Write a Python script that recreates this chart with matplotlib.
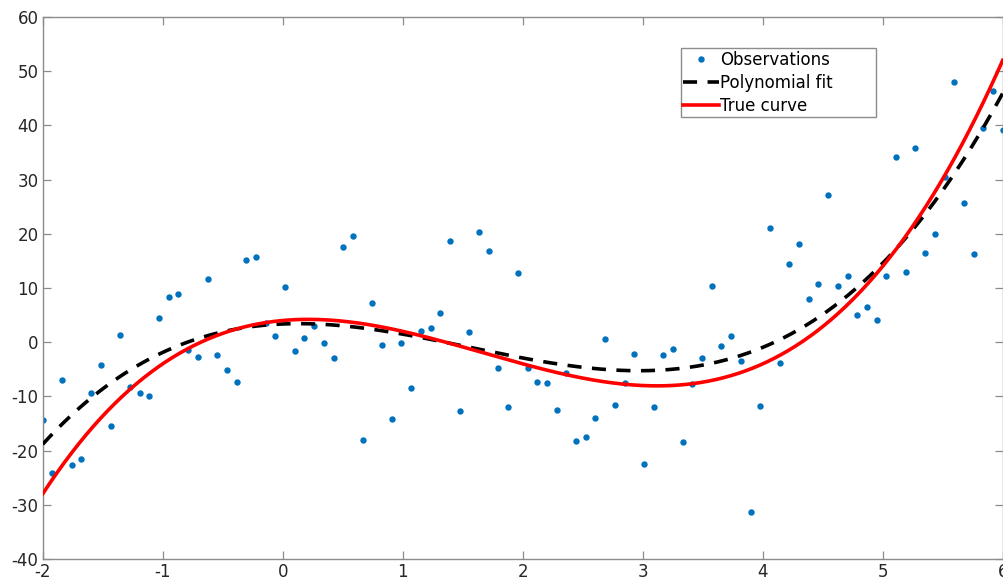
import numpy as np
import matplotlib
matplotlib.use("Agg")
import matplotlib.pyplot as plt
from matplotlib.patches import Rectangle

# Observation x positions and measured values
x_obs = np.linspace(-2, 6, 100)
y_obs = [
    -14.4, -24.1, -7.0, -22.6, -21.6, -9.3, -4.2, -15.4, 1.4, -8.3,
    -9.4, -9.9, 4.5, 8.4, 8.8, -1.5, -2.7, 11.6, -2.4, -5.1,
    -7.4, 15.1, 15.7, 3.5, 1.1, 10.2, -1.6, 0.7, 3.0, -0.2,
    -2.9, 17.5, 19.5, -18.0, 7.2, -0.5, -14.1, -0.1, -8.5, 2.0,
    2.6, 5.3, 18.7, -12.7, 1.8, 20.3, 16.8, -4.7, -11.9, 12.8,
    -4.7, -7.3, -7.5, -12.5, -5.7, -18.3, -17.5, -13.9, 0.5, -11.6,
    -7.6, -2.1, -22.5, -12.0, -2.3, -1.3, -18.5, -7.8, -2.9, 10.4,
    -0.7, 1.1, -3.4, -31.3, -11.7, 21.1, -3.8, 14.5, 18.2, 7.9,
    10.8, 27.2, 10.4, 12.3, 5.1, 6.5, 4.0, 12.2, 34.2, 13.0,
    35.8, 16.5, 19.9, 30.4, 48.0, 25.7, 16.3, 39.5, 46.3, 39.2,
]

# Coefficients of the underlying cubic (highest power first)
true_coeffs = [1.0, -5.0, 2.0, 4.0]
fit_degree = 3

x_curve = np.linspace(-2, 6, 400)
y_true = np.polyval(true_coeffs, x_curve)
fit_coeffs = np.polyfit(x_obs, y_obs, fit_degree)
y_fit = np.polyval(fit_coeffs, x_curve)

x_ticks = [-2, -1, 0, 1, 2, 3, 4, 5, 6]
y_ticks = [-40, -30, -20, -10, 0, 10, 20, 30, 40, 50, 60]

plt.rcParams["font.family"] = ["DejaVu Sans"]

fig = plt.figure(figsize=(10.04, 5.83), dpi=100)
ax = fig.add_axes([0.0425, 0.0412, 0.9562, 0.9297])

grey = "#8c8c8c"

ax.plot(x_obs, y_obs, linestyle="none", marker="o", markersize=4.6,
        markeredgewidth=0, color="#0072BD", label="Observations", zorder=2)
ax.plot(x_curve, y_fit, color="black", linewidth=2.6, dashes=(3.9, 2.9),
        label="Polynomial fit", zorder=3)
ax.plot(x_curve, y_true, color="#FF0000", linewidth=2.6,
        label="True curve", zorder=4)

ax.set_xlim(-2, 6)
ax.set_ylim(-40, 60)
ax.set_xticks(x_ticks)
ax.set_yticks(y_ticks)
ax.set_xticklabels([str(v) for v in x_ticks])
ax.set_yticklabels([str(v) for v in y_ticks])

for side in ["left", "right", "top", "bottom"]:
    ax.spines[side].set_color(grey)
    ax.spines[side].set_linewidth(1.0)
ax.tick_params(direction="in", length=5.5, width=0.9, color=grey,
               labelsize=12, labelcolor="#262626", top=True, right=True)
ax.tick_params(axis="x", pad=3)
ax.tick_params(axis="y", pad=3)

# Legend entries without their own frame; a separate box surrounds them
leg = ax.legend(loc="upper left", bbox_to_anchor=(0.6672, 0.937),
                fontsize=12, frameon=False, borderpad=0, labelspacing=0.29,
                handlelength=2.15, handletextpad=0.08, borderaxespad=0)
leg.set_zorder(6)
box = Rectangle((0.6649, 0.8160), 0.2032, 0.1268, transform=ax.transAxes,
                facecolor="white", edgecolor=grey, linewidth=1.0, zorder=5)
ax.add_patch(box)

fig.savefig("out.png", dpi=100)
